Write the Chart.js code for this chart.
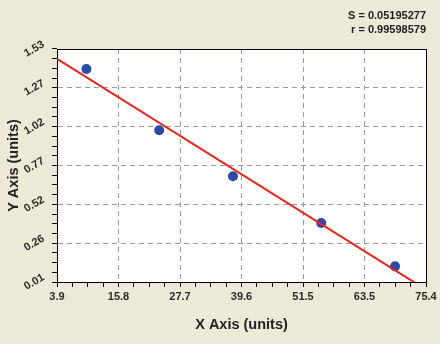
<!DOCTYPE html>
<html>
<head>
<meta charset="utf-8">
<title>Linear fit</title>
<script src="https://cdn.jsdelivr.net/npm/chart.js@4.4.1/dist/chart.umd.min.js"></script>
<style>
    html, body { margin: 0; padding: 0; background: #ece9d8; }
    #wrap { width: 440px; height: 344px; position: relative; }
</style>
</head>
<body>
<div id="wrap"><canvas id="grafico"></canvas></div>
<script>
// measured points
const xValues = [9.6, 23.7, 38.0, 55.1, 69.4];
const yValues = [1.40, 1.00, 0.70, 0.395, 0.112];
// fitted line end points
const fitX = [3.9, 73.5];
const fitY = [1.466, 0.0];
// axes
const xTickLabels = ['3.9', '15.8', '27.7', '39.6', '51.5', '63.5', '75.4'];
const yTickLabels = ['0.01', '0.26', '0.52', '0.77', '1.02', '1.27', '1.53'];
const xRange = [3.9, 75.4];
const yRange = [0.01, 1.53];
const statLines = ['S = 0.05195277', 'r = 0.99598579'];

const MINOR = 4;
const GRID = '#9a9a9a';

function buildTicks(range, labels) {
    const n = (labels.length - 1) * MINOR;
    const ticks = [];
    for (let i = 0; i <= n; i++) {
        ticks.push({ value: range[0] + (range[1] - range[0]) * i / n });
    }
    return ticks;
}

function gridColor(labels) {
    const last = (labels.length - 1) * MINOR;
    return ctx => (ctx.index % MINOR === 0 && ctx.index > 0 && ctx.index < last) ? GRID : 'rgba(0,0,0,0)';
}

function align(p) {
    return Math.round(p - 0.5) + 0.5;
}

const plotFrame = {
    id: 'plotFrame',
    beforeDraw(chart) {
        const { ctx, chartArea: a } = chart;
        ctx.save();
        ctx.fillStyle = '#ffffff';
        ctx.fillRect(a.left, a.top, a.right - a.left, a.bottom - a.top);
        ctx.restore();
    },
    beforeDatasetsDraw(chart) {
        const { ctx, chartArea: a } = chart;
        ctx.save();
        ctx.strokeStyle = '#000';
        ctx.lineWidth = 1;
        const l = align(a.left), t = align(a.top), r = align(a.right), b = align(a.bottom);
        ctx.strokeRect(l, t, r - l, b - t);
        ctx.restore();
    }
};

Chart.defaults.font.family = 'Arial, "Liberation Sans", Helvetica, sans-serif';
Chart.defaults.color = '#222';

const tickFont = { size: 11, weight: 'bold' };
const titleFont = { size: 14.5, weight: 'bold' };

new Chart(document.getElementById('grafico'), {
    type: 'scatter',
    data: {
        datasets: [{
            label: 'Data',
            data: xValues.map((x, i) => ({ x: x, y: yValues[i] })),
            backgroundColor: '#2c4ba6',
            borderColor: '#2c4ba6',
            pointRadius: 5,
            pointBorderWidth: 0,
            pointHoverRadius: 5,
            order: 2
        }, {
            label: 'Fit',
            data: fitX.map((x, i) => ({ x: x, y: fitY[i] })),
            showLine: true,
            borderColor: '#e8231a',
            borderWidth: 2,
            pointRadius: 0,
            order: 1
        }]
    },
    options: {
        responsive: true,
        maintainAspectRatio: false,
        animation: false,
        layout: { padding: { top: 0, left: 0, right: 14, bottom: 0 } },
        plugins: {
            legend: { display: false },
            tooltip: { enabled: false },
            title: {
                display: true,
                text: statLines,
                align: 'end',
                color: '#222',
                font: { size: 11, weight: 'bold', lineHeight: 14 / 11 },
                padding: { top: 9, bottom: 12 }
            }
        },
        scales: {
            x: {
                type: 'linear',
                min: xRange[0],
                max: xRange[1],
                afterBuildTicks: scale => { scale.ticks = buildTicks(xRange, xTickLabels); },
                afterFit: scale => { scale.height = 62; },
                ticks: {
                    autoSkip: false,
                    maxRotation: 0,
                    minRotation: 0,
                    padding: 3,
                    font: tickFont,
                    color: '#2a2a2a',
                    callback: (v, i) => i % MINOR === 0 ? xTickLabels[i / MINOR] : ''
                },
                grid: {
                    color: gridColor(xTickLabels),
                    tickColor: '#000',
                    tickLength: 5,
                    tickWidth: 1
                },
                border: { display: true, color: '#000', width: 1, dash: [5, 4] },
                title: {
                    display: true,
                    text: 'X Axis (units)',
                    color: '#222',
                    font: titleFont,
                    padding: { top: 4, bottom: 10 }
                }
            },
            y: {
                type: 'linear',
                min: yRange[0],
                max: yRange[1],
                afterBuildTicks: scale => { scale.ticks = buildTicks(yRange, yTickLabels); },
                afterFit: scale => { scale.width = 57; },
                ticks: {
                    autoSkip: false,
                    minRotation: 30,
                    maxRotation: 30,
                    crossAlign: 'center',
                    padding: 7,
                    font: tickFont,
                    color: '#2a2a2a',
                    callback: (v, i) => i % MINOR === 0 ? yTickLabels[i / MINOR] : ''
                },
                grid: {
                    color: gridColor(yTickLabels),
                    tickColor: '#000',
                    tickLength: 5,
                    tickWidth: 1
                },
                border: { display: true, color: '#000', width: 1, dash: [5, 4] },
                title: {
                    display: true,
                    text: 'Y Axis (units)',
                    color: '#222',
                    font: titleFont,
                    padding: { top: 5, bottom: 4 }
                }
            }
        }
    },
    plugins: [plotFrame]
});
</script>
</body>
</html>
